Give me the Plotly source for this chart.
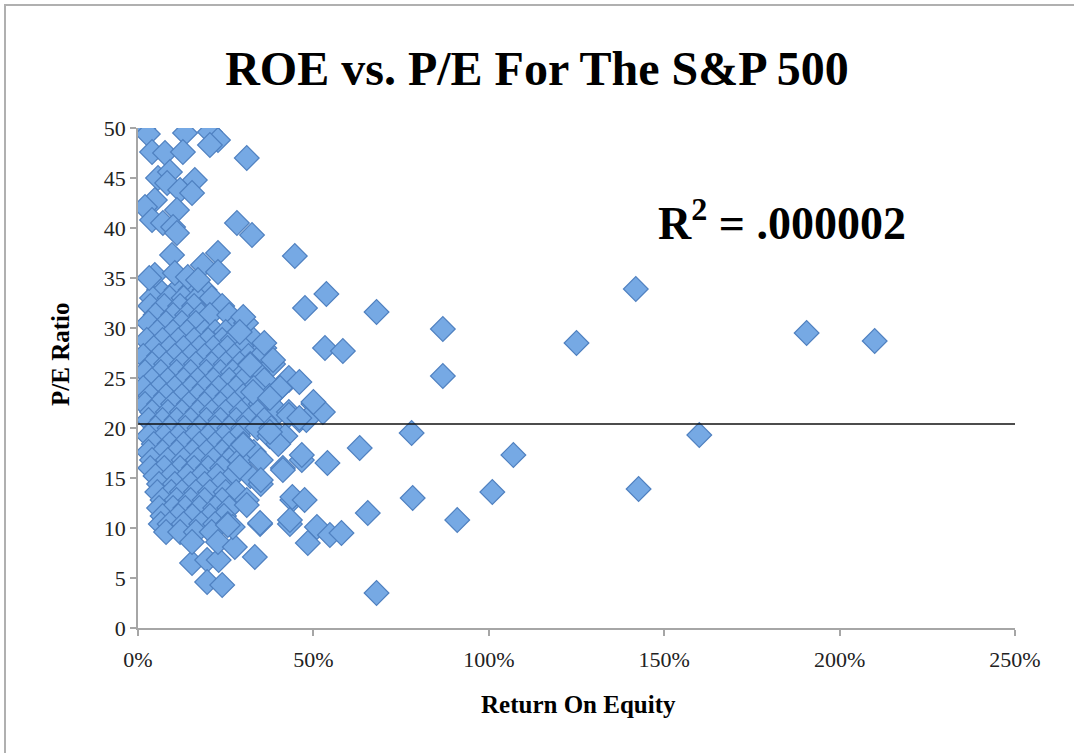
import plotly.graph_objects as go

# ---- Data (ROE in %, P/E ratio) ----
# Dense cluster, listed row by row: (P/E, [ROE values])
cluster_rows = [
    (33.8, [6, 11, 15, 19]),
    (33.0, [4, 9, 13, 17, 21]),
    (32.2, [3.5, 7.5, 12, 16, 24]),
    (31.3, [5, 10, 14, 18, 20.5, 26]),
    (30.5, [3, 8, 12.5, 16.5, 28.5, 30.8]),
    (29.6, [5.5, 10, 14, 19, 22, 25, 29]),
    (28.8, [2.5, 7, 11.5, 16, 20, 24, 27, 33]),
    (28.0, [4.5, 9, 13, 17.5, 21.5, 25.5, 30, 36]),
    (27.2, [1.5, 6, 10.5, 15, 19, 23, 27.5, 31.5, 35]),
    (26.4, [4, 8, 12.5, 16.5, 21, 25, 29, 32, 38.5]),
    (25.6, [2, 6.5, 11, 15, 19.5, 23.5, 27, 30.5, 34]),
    (24.8, [4, 8.5, 13, 17, 21.5, 26, 30, 36, 43]),
    (24.0, [1.5, 6, 10.5, 15, 19, 23, 28, 33, 40.5]),
    (23.2, [3.5, 8, 12.5, 17, 21, 25.5, 30, 37.5]),
    (22.4, [2, 6, 10, 14.5, 19, 23.5, 27.5, 32, 35, 50]),
    (21.6, [4, 8.5, 12.5, 17, 21, 25, 29.5, 34, 40, 43, 52.7]),
    (20.8, [3, 7, 11, 15, 19.5, 23.5, 28, 31.5, 36, 46, 48]),
    (20.0, [5, 9, 13.5, 17.5, 22, 26, 30, 34, 38]),
    (19.2, [3, 7.5, 11.5, 16, 20, 24.5, 28.5, 37.5, 42]),
    (18.4, [4.5, 9, 13, 17.5, 22, 26, 30, 40]),
    (17.6, [3, 7, 11, 15.5, 19.5, 24, 28, 33]),
    (16.8, [4, 8.5, 13, 17, 21.5, 26, 29, 35, 46.7]),
    (16.0, [3.5, 7.5, 12, 16, 20, 24, 29, 41.3]),
    (15.2, [5, 9.5, 14, 18, 22.5, 27, 32]),
    (14.4, [6, 10.5, 15, 19, 23.5, 35]),
    (13.6, [5.5, 9.5, 12.5, 16.5, 20.5, 25, 28]),
    (12.8, [7, 11, 15, 19, 24, 31, 44]),
    (12.0, [6, 10, 13.5, 17.5, 22, 26]),
    (11.2, [7, 11.5, 15.5, 20.5, 24.5]),
    (10.4, [6.5, 9, 13, 18, 22, 25.6, 34.8, 43.3]),
    (9.6, [8, 12, 16.5, 21]),
]

upper_roe = [1.5, 2.8, 4.0, 7.7, 13.4, 12.8, 20.5, 22.8, 20.5, 31.0, 5.7, 9.1, 16.2, 8.3,
             12.0, 15.4, 4.8, 2.0, 11.1, 4.0, 7.1, 10.0, 11.1, 28.2, 32.5, 9.7, 22.8, 4.8,
             3.2, 10.5, 14.2, 18.5, 17.1, 22.8, 44.7]
upper_pe = [50.0, 49.4, 47.6, 47.5, 49.5, 47.6, 49.6, 48.8, 48.3, 47.0, 45.0, 45.6, 44.8, 44.5,
            43.8, 43.5, 42.8, 42.1, 41.8, 40.8, 40.5, 40.1, 39.5, 40.5, 39.3, 37.3, 37.5, 35.3,
            35.0, 35.5, 35.1, 36.3, 34.8, 35.6, 37.2]

mid_roe = [30, 47.6, 53.7, 29, 36, 38.5, 53.3, 58.4, 32, 43, 46, 40.5, 32.8, 50, 37.6, 43, 46,
           37.6, 30, 46.7, 54, 29, 35, 41.3, 31, 34.8, 43.3, 44, 47.5, 51, 48.4, 54.7, 58,
           68, 78, 63.2, 78.3, 65.5, 68]
mid_pe = [31.1, 32.0, 33.4, 29.6, 28.5, 26.8, 28.0, 27.7, 26.3, 25.0, 24.6, 24.0, 23.6, 22.6,
          23.0, 21.3, 21.0, 19.6, 18.3, 17.3, 16.5, 16.1, 14.8, 15.8, 12.3, 10.5, 10.8, 13.1,
          12.8, 10.1, 8.5, 9.3, 9.5, 31.6, 19.5, 18.0, 13.0, 11.5, 3.5]

low_roe = [15.4, 19.7, 19.7, 24, 23, 22.8, 15.4, 27.6, 33.3, 27, 25.6]
low_pe = [6.5, 6.8, 4.6, 4.3, 6.8, 8.6, 8.6, 8.1, 7.1, 10.1, 10.3]

far_roe = [86.9, 86.9, 91, 101, 107, 125, 141.9, 142.7, 160, 190.6, 210]
far_pe = [29.9, 25.2, 10.8, 13.6, 17.3, 28.5, 33.9, 13.9, 19.3, 29.5, 28.7]

trend_roe = [0, 250]
trend_pe = [20.4, 20.4]

x_ticks = [0, 50, 100, 150, 200, 250]
x_tick_labels = ["0%", "50%", "100%", "150%", "200%", "250%"]
y_ticks = [0, 5, 10, 15, 20, 25, 30, 35, 40, 45, 50]

# ---- Assemble ----
roe = []
pe = []
for row_pe, row_roe in cluster_rows:
    roe.extend(row_roe)
    pe.extend([row_pe] * len(row_roe))
for r_list, p_list in [(upper_roe, upper_pe), (mid_roe, mid_pe), (low_roe, low_pe), (far_roe, far_pe)]:
    roe.extend(r_list)
    pe.extend(p_list)

FONT = "Liberation Serif"

fig = go.Figure()
fig.add_trace(go.Scatter(
    x=roe, y=pe, mode="markers",
    marker=dict(symbol="diamond", size=19, color="#76a9e4",
                line=dict(color="#4f80c0", width=1.2)),
    hoverinfo="x+y", showlegend=False,
))
fig.add_trace(go.Scatter(
    x=trend_roe, y=trend_pe, mode="lines",
    line=dict(color="#111111", width=1.5), showlegend=False, hoverinfo="skip",
))

axis_common = dict(
    showgrid=False, zeroline=False, showline=True, linecolor="#a6a6a6", linewidth=1.5,
    ticks="outside", ticklen=6, tickcolor="#a6a6a6", tickwidth=1.5,
    tickfont=dict(family=FONT, size=22, color="#222222"),
)

fig.update_layout(
    width=1074, height=753,
    margin=dict(l=138, r=59, t=128, b=125),
    paper_bgcolor="white", plot_bgcolor="white",
    title=dict(text="<b>ROE vs. P/E For The S&amp;P 500</b>", x=0.5, xanchor="center",
               y=1 - 68 / 753, yanchor="middle",
               font=dict(family=FONT, size=48, color="#000000")),
    xaxis=dict(range=[0, 250], tickvals=x_ticks, ticktext=x_tick_labels,
               ticklabelstandoff=5, **axis_common),
    yaxis=dict(range=[0, 50], tickvals=y_ticks, **axis_common),
    annotations=[
        dict(text="<b>Return On Equity</b>", xref="paper", yref="paper",
             x=(578 - 138) / 877, y=(628 - 704) / 500, showarrow=False,
             xanchor="center", yanchor="middle",
             font=dict(family=FONT, size=25, color="#000000")),
        dict(text="<b>P/E Ratio</b>", xref="paper", yref="paper",
             x=(60 - 138) / 877, y=(628 - 355) / 500, showarrow=False, textangle=-90,
             xanchor="center", yanchor="middle",
             font=dict(family=FONT, size=25, color="#000000")),
        dict(text="<b>R<sup>2</sup> = .000002</b>", xref="paper", yref="paper",
             x=(782 - 138) / 877, y=(628 - 220) / 500, showarrow=False,
             xanchor="center", yanchor="middle",
             font=dict(family=FONT, size=46, color="#000000")),
    ],
    shapes=[
        dict(type="rect", xref="paper", yref="paper",
             x0=(5 - 138) / 877, x1=(1090 - 138) / 877,
             y0=(628 - 770) / 500, y1=(628 - 5) / 500,
             line=dict(color="#b0b0b0", width=2), fillcolor="rgba(0,0,0,0)", layer="below"),
    ],
)

fig.write_html("out.html", config={"displayModeBar": False},
               post_script="document.body.style.margin='0px';")
